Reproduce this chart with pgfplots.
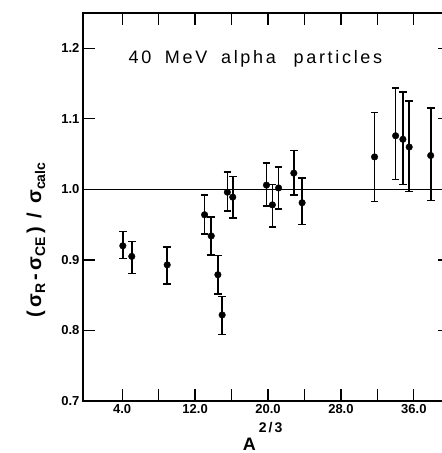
\documentclass[border=0pt]{standalone}
\usepackage{fontspec}
\setmainfont{Liberation Sans}
\newfontfamily\widefont[LetterSpace=15]{Liberation Sans}
\usepackage{pgfplots}
\pgfplotsset{compat=1.18}

% 40 MeV alpha particles: A^{2/3}, ratio, error up, error down
\pgfplotstableread{
x     y     ep    em
4.07  0.920 0.020 0.018
5.05  0.905 0.021 0.024
8.94  0.893 0.025 0.027
13.04 0.964 0.028 0.027
13.77 0.934 0.027 0.027
14.50 0.879 0.027 0.027
14.97 0.822 0.026 0.028
15.54 0.996 0.029 0.027
16.13 0.989 0.029 0.030
19.83 1.006 0.031 0.030
20.48 0.978 0.029 0.031
21.16 1.002 0.030 0.030
22.83 1.023 0.032 0.031
23.74 0.981 0.035 0.031
31.69 1.046 0.063 0.063
34.00 1.076 0.068 0.062
34.80 1.071 0.067 0.064
35.49 1.060 0.065 0.063
37.85 1.048 0.067 0.064
}\alphadata

\begin{document}
\begin{tikzpicture}
\begin{axis}[name=ax, scale only axis, width=367.3pt, height=388pt,
    xmin=-0.3, xmax=40, ymin=0.7, ymax=1.25,
    axis line style={line width=1.3pt},
    tick align=inside, major tick length=12pt,
    every tick/.style={black, line width=1.3pt},
    xtick={4,8,...,36}, xticklabels={4.0,,12.0,,20.0,,28.0,,36.0},
    ytick={0.7,0.8,...,1.21}, yticklabels={0.7,0.8,0.9,1.0,1.1,1.2},
    tick label style={font=\bfseries\fontsize{13}{13}\selectfont},
    /pgf/number format/assume math mode=true,
    xlabel={\bfseries\fontsize{18}{18}\selectfont A\hspace{3pt}\raisebox{18pt}{\fontsize{14}{14}\selectfont 2\hspace{2pt}/\hspace{2pt}3}},
    xlabel style={at={(axis description cs:0.489,0)}, anchor=base, yshift=-49pt},
    ylabel={\bfseries\fontsize{20}{20}\selectfont (\,σ\raisebox{-4pt}{\fontsize{14}{14}\selectfont R}\,-\,σ\raisebox{-4pt}{\fontsize{14}{14}\selectfont CE}\,)\, /\, σ\raisebox{-4pt}{\fontsize{14}{14}\selectfont calc}},
    ylabel style={at={(axis description cs:-0.128,0.415)}, anchor=center},
  ]
  \addplot[black, line width=1.2pt, forget plot] coordinates {(-0.3,1.0) (40,1.0)};
  \addplot[black, only marks, mark=*, mark size=3.3pt,
    error bars/.cd, y dir=both, y explicit,
    error bar style={line width=1.6pt},
    error mark options={rotate=90, line width=1.6pt, mark size=3.8pt}]
    table[x=x, y=y, y error plus=ep, y error minus=em] {\alphadata};
  \node[anchor=base west] at (axis cs:4.31,1.179) {\widefont\fontsize{18}{18}\selectfont 40\hspace{6pt} MeV\hspace{6pt} alpha\hspace{10pt} particles};
\end{axis}
\pgfresetboundingbox
\path[use as bounding box] ([shift={(-83pt,-52pt)}]ax.south west) rectangle ([shift={(359pt,401pt)}]ax.south west);
\end{tikzpicture}
\end{document}
